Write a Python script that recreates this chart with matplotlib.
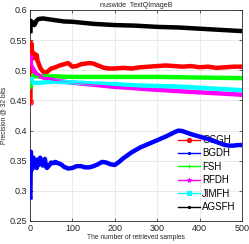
import matplotlib
matplotlib.use("Agg")
import matplotlib.pyplot as plt
from matplotlib.lines import Line2D

plt.rcParams['font.family'] = ['Liberation Sans', 'DejaVu Sans']

title = "nuswide  TextQImageB"
xlabel = "The number of retrieved samples"
ylabel = "Precision @ 32 bits"
xticks = [0, 100, 200, 300, 400, 500]
yticks = [0.25, 0.3, 0.35, 0.4, 0.45, 0.5, 0.55, 0.6]
ytick_labels = ["0.25", "0.3", "0.35", "0.4", "0.45", "0.5", "0.55", "0.6"]

osgh_x = [1, 2, 3, 4, 5, 6, 8, 10, 12, 14, 16, 18, 20, 22, 25, 28, 32, 36, 40, 45, 50, 60, 70, 80, 90,
          100, 110, 120, 140, 150, 160, 175, 185, 200, 220, 240, 260, 280, 300, 320, 340, 360, 380,
          400, 420, 440, 460, 480, 500]
osgh_y = [0.448, 0.535, 0.545, 0.54, 0.525, 0.53, 0.52, 0.525, 0.527, 0.52, 0.525, 0.515, 0.512, 0.508,
          0.503, 0.5, 0.497, 0.496, 0.497, 0.5, 0.503, 0.505, 0.508, 0.51, 0.512, 0.506, 0.507, 0.51,
          0.512, 0.511, 0.508, 0.504, 0.503, 0.503, 0.504, 0.503, 0.505, 0.506, 0.507, 0.508, 0.507,
          0.506, 0.507, 0.505, 0.506, 0.504, 0.505, 0.506, 0.506]

bgdh_x = [1, 2, 3, 4, 5, 6, 7, 8, 9, 10, 12, 14, 16, 18, 20, 22, 24, 26, 28, 30, 32, 35, 38, 40, 45, 50,
          55, 60, 65, 70, 75, 80, 90, 100, 110, 120, 130, 140, 150, 160, 170, 180, 190, 200, 210, 220,
          240, 260, 280, 300, 320, 340, 350, 360, 380, 400, 420, 440, 460, 470, 480, 490, 500]
bgdh_y = [0.289, 0.365, 0.35, 0.335, 0.345, 0.352, 0.338, 0.355, 0.345, 0.34, 0.35, 0.345, 0.338, 0.352,
          0.343, 0.348, 0.355, 0.345, 0.35, 0.342, 0.345, 0.353, 0.34, 0.338, 0.342, 0.347, 0.346,
          0.348, 0.346, 0.345, 0.343, 0.34, 0.337, 0.338, 0.341, 0.341, 0.339, 0.339, 0.341, 0.344,
          0.348, 0.347, 0.344, 0.343, 0.348, 0.354, 0.364, 0.372, 0.378, 0.384, 0.39, 0.397, 0.4,
          0.399, 0.394, 0.39, 0.386, 0.381, 0.376, 0.375, 0.375, 0.376, 0.376]

fsh_x = [1, 2, 3, 5, 10, 20, 50, 100, 200, 300, 400, 500]
fsh_y = [0.474, 0.482, 0.488, 0.492, 0.49, 0.49, 0.49, 0.489, 0.489, 0.489, 0.488, 0.487]

rfdh_x = [1, 2, 3, 5, 7, 10, 15, 24, 40, 60, 86, 120, 165, 200, 244, 280, 322, 360, 401, 450, 500]
rfdh_y = [0.522, 0.512, 0.507, 0.505, 0.503, 0.499, 0.494, 0.49, 0.486, 0.483, 0.4805, 0.478, 0.475,
          0.4725, 0.4705, 0.4685, 0.4667, 0.465, 0.4633, 0.4615, 0.4595]

jimfh_x = [1, 2, 3, 5, 10, 20, 50, 100, 150, 200, 250, 300, 350, 400, 450, 500]
jimfh_y = [0.484, 0.488, 0.485, 0.48, 0.479, 0.479, 0.481, 0.48, 0.478, 0.477, 0.475, 0.474, 0.473,
           0.471, 0.469, 0.467]

agsfh_x = [1, 2, 3, 5, 8, 10, 12, 15, 20, 30, 40, 60, 80, 100, 150, 200, 250, 300, 350, 400, 450, 500]
agsfh_y = [0.565, 0.582, 0.578, 0.58, 0.576, 0.575, 0.577, 0.582, 0.585, 0.586, 0.585, 0.583, 0.581,
           0.5805, 0.577, 0.575, 0.574, 0.572, 0.571, 0.569, 0.567, 0.565]

series = [
    ("OSGH", osgh_x, osgh_y, "#ff0000", "o"),
    ("BGDH", bgdh_x, bgdh_y, "#0000ff", "."),
    ("FSH", fsh_x, fsh_y, "#00ff00", "+"),
    ("RFDH", rfdh_x, rfdh_y, "#ff00ff", "*"),
    ("JIMFH", jimfh_x, jimfh_y, "#00ffff", "s"),
    ("AGSFH", agsfh_x, agsfh_y, "#000000", "."),
]

fig = plt.figure(figsize=(2.49, 2.44), dpi=100)
ax = fig.add_axes([30 / 249, 23 / 244, 212 / 249, 211 / 244])

handles = []
for name, xs, ys, c, m in series:
    ax.plot(xs, ys, color=c, lw=3.2, solid_joinstyle='round', zorder=3)
    ax.plot(xs, ys, color=c, lw=1.0, marker=m, ms=4, mew=0.8, mfc='none' if m in 'os' else c,
            markevery=[0], zorder=4)
    handles.append(Line2D([0], [0], color=c, lw=1.0, marker=m, ms=3, mew=0.8))

ax.set_xlim(0, 500)
ax.set_ylim(0.25, 0.6)
ax.set_xticks(xticks)
ax.set_yticks(yticks)
ax.set_yticklabels(ytick_labels)
ax.grid(True, color='#e6e6e6', lw=0.6)
ax.set_axisbelow(True)
ax.tick_params(direction='in', length=2, width=0.5, labelsize=6.5, colors='#262626',
               top=True, right=True, pad=2)
for s in ax.spines.values():
    s.set_linewidth(0.6)
    s.set_color('#262626')
ax.set_title(title, fontsize=5, pad=2, color='#262626')
ax.set_xlabel(xlabel, fontsize=4.8, labelpad=1, color='#262626')
ax.set_ylabel(ylabel, fontsize=4.8, labelpad=2, color='#262626')

leg = ax.legend(handles, [s[0] for s in series], loc='upper left', bbox_to_anchor=(0.665, 0.44),
                frameon=False, fontsize=7, handlelength=2.3, handletextpad=0.2, labelspacing=0.35,
                borderpad=0.2)
leg.set_zorder(1)

fig.savefig("out.png", dpi=100)
